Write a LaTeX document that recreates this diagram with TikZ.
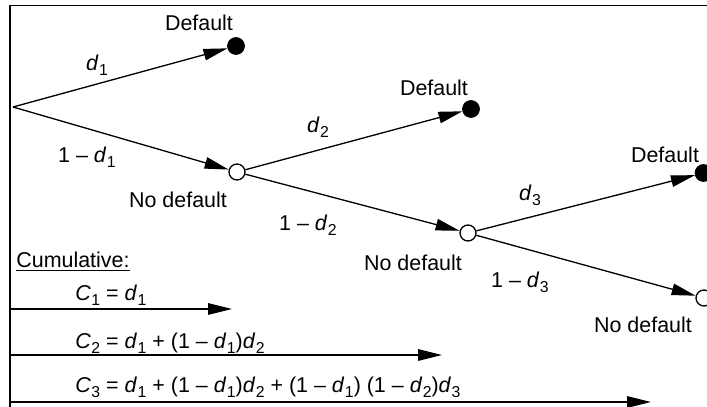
\documentclass[tikz,border=0pt]{standalone}
\usepackage{fontspec}
\setmainfont{Liberation Sans}
\usepackage{tikz}
\usetikzlibrary{arrows.meta, positioning}

\newcommand{\dsub}[1]{\textit{d}\kern0.3pt\raisebox{-0.45ex}{\fontsize{9}{10}\selectfont #1}}
\newcommand{\csub}[1]{\textit{C}\kern0.3pt\raisebox{-0.45ex}{\fontsize{9}{10}\selectfont #1}}

\begin{document}
\begin{tikzpicture}[
    dflt/.style={circle, fill=black, draw=black, inner sep=0pt, minimum size=0.34cm},
    nodflt/.style={circle, fill=white, draw=black, line width=0.75pt, inner sep=0pt, minimum size=0.32cm},
    arr/.style={-{Triangle[length=0.48cm, width=0.23cm]}, line width=0.75pt},
    lbl/.style={font=\fontsize{12.2}{14.6}\selectfont, inner sep=0pt}
]
\useasboundingbox (0,0) rectangle (14.14,8.14);

% Frame
\draw[line width=0.9pt] (0.2,0) -- (0.2,8.03) -- (14.2,8.03);

% Tree nodes
\coordinate (root) at (0.26, 6.0);
\node[dflt] (def1) at (4.72, 7.22) {};
\node[nodflt] (nod1) at (4.74, 4.70) {};
\node[dflt] (def2) at (9.42, 5.96) {};
\node[nodflt] (nod2) at (9.36, 3.48) {};
\node[dflt] (def3) at (14.07, 4.68) {};
\node[nodflt] (nod3) at (14.08, 2.18) {};

% Branches
\draw[arr] (root) -- (def1);
\draw[arr] (root) -- (nod1);
\draw[arr] (nod1) -- (def2);
\draw[arr] (nod1) -- (nod2);
\draw[arr] (nod2) -- (def3);
\draw[arr] (nod2) -- (nod3);

% Labels
\node[lbl] (tdef1) at (3.98, 7.68) {Default};
\node[lbl] (td1) at (1.94, 6.84) {\dsub{1}};
\node[lbl] (tn1) at (1.74, 5.0) {1 \textendash{} \dsub{1}};
\node[lbl] (tnod1) at (3.56, 4.14) {No default};
\node[lbl] (td2) at (6.36, 5.60) {\dsub{2}};
\node[lbl] (tdef2) at (8.68, 6.38) {Default};
\node[lbl] (tn2) at (6.16, 3.64) {1 \textendash{} \dsub{2}};
\node[lbl] (tnod2) at (8.26, 2.88) {No default};
\node[lbl] (td3) at (10.6, 4.24) {\dsub{3}};
\node[lbl] (tdef3) at (13.3, 5.04) {Default};
\node[lbl] (tn3) at (10.4, 2.5) {1 \textendash{} \dsub{3}};
\node[lbl] (tnod3) at (12.86, 1.64) {No default};

% Cumulative
\node[lbl, anchor=west] (cum) at (0.32, 2.90) {\underline{Cumulative:}};
\node[lbl, anchor=west] (c1) at (1.5, 2.24) {\csub{1} = \dsub{1}};
\node[lbl, anchor=west] (c2) at (1.5, 1.28) {\csub{2} = \dsub{1} + (1 \textendash{} \dsub{1})\dsub{2}};
\node[lbl, anchor=west] (c3) at (1.5, 0.40) {\csub{3} = \dsub{1} + (1 \textendash{} \dsub{1})\dsub{2} + (1 \textendash{} \dsub{1}) (1 \textendash{} \dsub{2})\dsub{3}};

\coordinate (c1s) at (0.2, 1.96);
\coordinate (c1e) at (4.64, 1.96);
\coordinate (c2s) at (0.2, 1.04);
\coordinate (c2e) at (8.84, 1.04);
\coordinate (c3s) at (0.2, 0.10);
\coordinate (c3e) at (13.02, 0.10);
\draw[arr] (c1s) -- (c1e);
\draw[arr] (c2s) -- (c2e);
\draw[arr] (c3s) -- (c3e);

\end{tikzpicture}
\end{document}
